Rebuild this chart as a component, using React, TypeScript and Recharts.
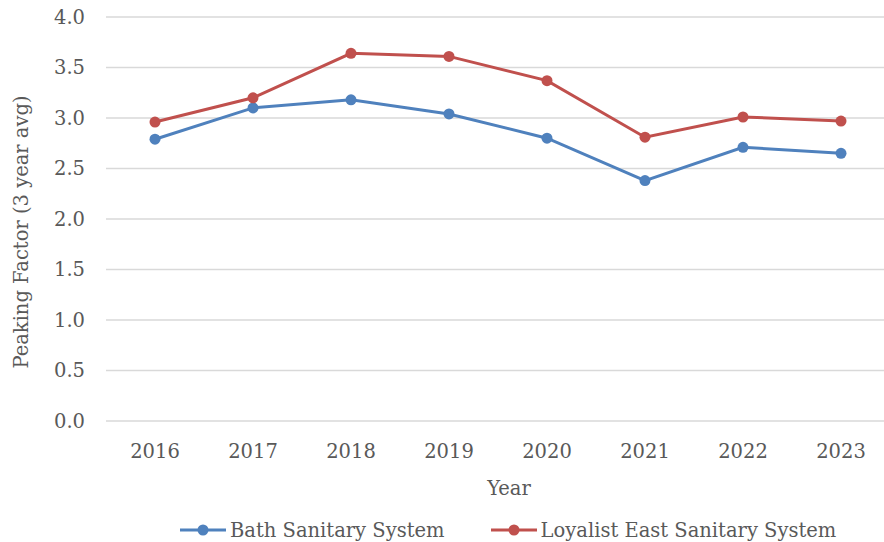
import React from "react";
import { LineChart, Line, XAxis, YAxis, CartesianGrid, Legend } from "recharts";

const years = ["2016", "2017", "2018", "2019", "2020", "2021", "2022", "2023"];
const bathValues = [2.79, 3.1, 3.18, 3.04, 2.8, 2.38, 2.71, 2.65];
const loyalistValues = [2.96, 3.2, 3.64, 3.61, 3.37, 2.81, 3.01, 2.97];
const yTicks = [0, 0.5, 1, 1.5, 2, 2.5, 3, 3.5, 4];

const seriesNames = ["Bath Sanitary System", "Loyalist East Sanitary System"];
const seriesColors = ["#4F81BD", "#C0504D"];

const data = years.map((y, i) => ({ year: y, bath: bathValues[i], loyalist: loyalistValues[i] }));

const FONT = "'DejaVu Serif', serif";
const TEXT = "#595959";
const FS = 19.5;

const LegendContent = () => (
  <div style={{ display: "flex", alignItems: "center", height: 24, paddingLeft: 180, fontFamily: FONT, fontSize: FS, color: TEXT }}>
    {seriesNames.map((n, i) => (
      <div key={n} style={{ display: "flex", alignItems: "center", marginRight: i === 0 ? 46 : 0 }}>
        <svg width={46} height={14} style={{ marginRight: 4 }}>
          <line x1={0} y1={7} x2={46} y2={7} stroke={seriesColors[i]} strokeWidth={3} />
          <circle cx={23} cy={7} r={5.5} fill={seriesColors[i]} />
        </svg>
        <span>{n}</span>
      </div>
    ))}
  </div>
);

export default function App() {
  return (
    <div style={{ position: "fixed", left: 0, top: 0, width: 884, height: 542, overflow: "hidden", background: "#fff" }}>
      <LineChart width={890} height={542} data={data} margin={{ top: 17, right: 0, left: 0, bottom: 0 }}>
        <CartesianGrid vertical={false} stroke="#D9D9D9" strokeWidth={1.3} />
        <XAxis
          dataKey="year"
          padding={{ left: 49, right: 49 }}
          axisLine={false}
          tickLine={false}
          tickSize={0}
          tickMargin={23}
          height={97}
          tick={{ fill: TEXT, fontSize: FS, fontFamily: FONT }}
          label={{
            content: (props: any) => {
              const vb = props.viewBox || {};
              return (
                <text x={vb.x + vb.width / 2 + 11} y={vb.y + 74} textAnchor="middle" fill={TEXT} fontSize={FS} fontFamily={FONT}>
                  Year
                </text>
              );
            },
          }}
        />
        <YAxis
          domain={[0, 4]}
          ticks={yTicks}
          interval={0}
          width={106}
          axisLine={false}
          tickLine={false}
          tickSize={0}
          tickMargin={21}
          tickFormatter={(v: number) => v.toFixed(1)}
          tick={{ fill: TEXT, fontSize: FS, fontFamily: FONT }}
          label={{
            content: (props: any) => {
              const vb = props.viewBox || {};
              const x = vb.x + 28;
              const y = vb.y + vb.height / 2 + 13;
              return (
                <text x={x} y={y} transform={`rotate(-90 ${x} ${y})`} textAnchor="middle" fill={TEXT} fontSize={FS} fontFamily={FONT}>
                  Peaking Factor (3 year avg)
                </text>
              );
            },
          }}
        />
        <Legend verticalAlign="bottom" content={<LegendContent />} />
        <Line
          dataKey="bath"
          name={seriesNames[0]}
          stroke={seriesColors[0]}
          strokeWidth={3}
          dot={{ r: 5.5, fill: seriesColors[0], stroke: seriesColors[0], strokeWidth: 0 }}
          isAnimationActive={false}
        />
        <Line
          dataKey="loyalist"
          name={seriesNames[1]}
          stroke={seriesColors[1]}
          strokeWidth={3}
          dot={{ r: 5.5, fill: seriesColors[1], stroke: seriesColors[1], strokeWidth: 0 }}
          isAnimationActive={false}
        />
      </LineChart>
    </div>
  );
}
